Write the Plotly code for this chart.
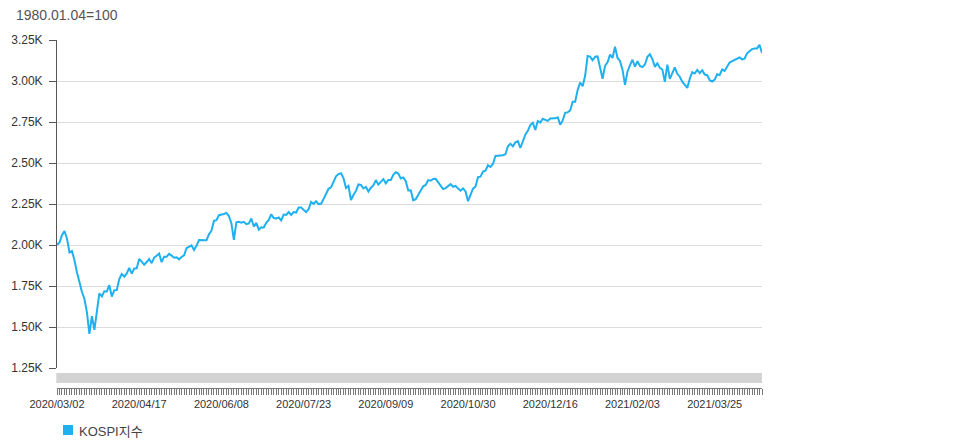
"""
KOSPI index, daily closes 2020/03/02 - 2021/04/21 (1980.01.04 = 100).
Category x axis (trading days only), one tick per day, a label every 33 days.
"""
import pandas as pd
import plotly.graph_objects as go

# KRX closed on these weekdays inside the window
holidays = ["2020-04-15", "2020-04-30", "2020-05-01", "2020-05-05", "2020-08-17",
            "2020-09-30", "2020-10-01", "2020-10-02", "2020-10-09", "2020-12-25",
            "2021-01-01", "2021-02-11", "2021-02-12", "2021-03-01"]
days = pd.bdate_range("2020-03-02", "2021-04-21")
days = days[~days.isin(pd.to_datetime(holidays))]
dates = [d.strftime("%Y/%m/%d") for d in days]

kospi = [
    # 2020-03
    2002.51, 2014.15, 2059.33, 2085.26, 2040.22, 1954.77, 1962.93, 1908.27, 1834.33, 1771.44, 1714.86,
    1672.44, 1591.20, 1457.64, 1566.15, 1482.46, 1609.97, 1704.76, 1686.24, 1717.73, 1717.12, 1754.64,
    # 2020-04
    1685.46, 1724.86, 1725.44, 1791.88, 1823.60, 1807.14, 1826.66, 1860.70, 1825.76, 1857.08,
    1857.61, 1914.53, 1898.36, 1879.38, 1896.15, 1914.31, 1889.01, 1922.77, 1934.16, 1947.56,
    # 2020-05
    1895.37, 1928.76, 1928.61, 1945.82, 1935.40, 1922.10, 1924.96, 1912.80, 1927.28, 1937.11,
    1980.36, 1989.64, 1998.31, 1970.13, 1994.60, 2029.78, 2031.20, 2028.54, 2029.60,
    # 2020-06
    2065.08, 2087.19, 2147.00, 2151.18, 2181.87, 2184.29, 2188.92, 2195.69, 2176.78, 2132.30, 2030.82,
    2138.05, 2141.05, 2136.06, 2141.32, 2126.73, 2131.24, 2161.51, 2112.37, 2134.65, 2093.48, 2108.33,
    # 2020-07
    2106.70, 2135.37, 2152.41, 2187.93, 2164.17, 2161.85, 2167.48, 2150.25, 2186.06, 2183.61, 2201.19,
    2183.76, 2201.19, 2198.20, 2228.66, 2228.67, 2216.93, 2200.44, 2217.86, 2263.16, 2251.04, 2267.01,
    2249.37,
    # 2020-08
    2251.04, 2279.97, 2311.86, 2342.61, 2351.67, 2386.38, 2418.67, 2432.35, 2437.53, 2407.49,
    2348.24, 2360.54, 2274.22, 2304.59, 2329.83, 2369.25, 2366.73, 2344.45, 2353.80, 2326.17,
    # 2020-09
    2349.25, 2363.34, 2395.90, 2368.25, 2384.22, 2401.91, 2375.81, 2396.48, 2396.69, 2427.96, 2443.58,
    2435.92, 2406.17, 2412.40, 2389.11, 2332.59, 2333.24, 2272.70, 2278.79, 2308.08, 2327.89,
    # 2020-10
    2358.00, 2365.90, 2395.90, 2391.96, 2403.15, 2403.73, 2380.48, 2361.21, 2341.53, 2346.74,
    2358.41, 2370.86, 2355.08, 2360.81, 2343.91, 2330.84, 2345.26, 2326.67, 2267.15,
    # 2020-11
    2300.16, 2343.31, 2357.32, 2413.79, 2416.50, 2447.20, 2452.83, 2485.87, 2475.62, 2493.87, 2543.03,
    2543.35, 2545.64, 2547.42, 2553.50, 2602.59, 2617.76, 2601.54, 2625.91, 2633.45, 2591.34,
    # 2020-12
    2634.25, 2672.47, 2696.22, 2731.45, 2745.44, 2700.93, 2755.47, 2746.46, 2770.06, 2762.20, 2756.82,
    2771.79, 2770.43, 2772.18, 2778.65, 2733.68, 2759.82, 2806.86, 2808.60, 2820.51, 2873.47, 2873.47,
    # 2021-01
    2944.45, 2990.57, 2968.21, 3031.68, 3152.18, 3148.45, 3125.95, 3148.29, 3149.93, 3085.90,
    3013.93, 3092.66, 3114.55, 3160.84, 3140.63, 3208.99, 3140.31, 3122.56, 3069.05, 2976.21,
    # 2021-02
    3056.53, 3096.81, 3129.68, 3087.55, 3120.63, 3091.24, 3084.67, 3100.58, 3147.00,
    3163.25, 3133.73, 3086.66, 3107.62, 3079.75, 3070.09, 2994.98, 3099.69, 3012.95,
    # 2021-03
    3043.49, 3082.99, 3043.87, 3026.26, 2996.11, 2976.12, 2958.12, 3013.70, 3054.39, 3045.71, 3067.17,
    3047.50, 3066.01, 3039.53, 3035.46, 3004.74, 2996.35, 3008.33, 3041.01, 3036.04, 3070.00, 3061.42,
    # 2021-04
    3087.40, 3112.80, 3120.83, 3127.20, 3137.93, 3143.26, 3131.88, 3135.59,
    3169.08, 3182.38, 3194.33, 3198.62, 3198.84, 3220.70, 3171.66,
]
assert len(dates) == len(kospi), (len(dates), len(kospi))

x_labels = ["2020/03/02", "2020/04/17", "2020/06/08", "2020/07/23", "2020/09/09",
            "2020/10/30", "2020/12/16", "2021/02/03", "2021/03/25"]
y_ticks = [1250, 1500, 1750, 2000, 2250, 2500, 2750, 3000, 3250]
y_labels = ["1.25K", "1.50K", "1.75K", "2.00K", "2.25K", "2.50K", "2.75K", "3.00K", "3.25K"]

BLUE = "#1fb1ef"
FONT = "Liberation Sans, Arial, Noto Sans CJK KR"
W, H = 968, 447
L, R, T, B = 57, 206, 40, 59          # plot area 57..762 x 40..388 px
PH = H - T - B

fig = go.Figure()
fig.add_trace(go.Scatter(x=dates, y=kospi, mode="lines", showlegend=False,
                         line=dict(color=BLUE, width=2)))

# grey navigator bar between plot and date ticks
fig.add_shape(type="rect", xref="paper", yref="paper", x0=-0.001, x1=1,
              y0=(T + PH - 383) / PH, y1=(T + PH - 373) / PH,
              fillcolor="#d3d3d3", line_width=0, layer="below")

# legend: square swatch + label below the axis
fig.add_shape(type="rect", xref="paper", yref="paper",
              x0=(63 - L) / 705, x1=(73 - L) / 705,
              y0=(T + PH - 435) / PH, y1=(T + PH - 425) / PH,
              fillcolor=BLUE, line_width=0)
fig.add_annotation(text="KOSPI지수", xref="paper", yref="paper", showarrow=False,
                   x=(77 - L) / 705, xanchor="left", y=(T + PH - 431) / PH, yanchor="middle",
                   font=dict(size=13, color="#444"))

fig.update_layout(
    width=W, height=H,
    margin=dict(l=L, r=R, t=T, b=B, autoexpand=False),
    paper_bgcolor="white", plot_bgcolor="white",
    font=dict(family=FONT, size=11, color="#333"),
    title=dict(text="1980.01.04=100", x=16 / W, xanchor="left", y=1 - 15 / H, yanchor="middle",
               font=dict(size=14, color="#555")),
    showlegend=False,
    xaxis=dict(type="category", anchor="free", position=0, range=[0, len(dates) - 1],
               tickmode="array", tickvals=dates,
               ticktext=[d if d in x_labels else "" for d in dates],
               ticks="outside", ticklen=6, tickwidth=1, tickcolor="#777",
               showline=True, linecolor="#777", linewidth=1,
               showgrid=False, zeroline=False, tickangle=0,
               tickfont=dict(size=11, color="#333")),
    yaxis=dict(domain=[20 / PH, 1], range=[1250, 3250],
               tickmode="array", tickvals=y_ticks, ticktext=y_labels,
               ticks="outside", ticklen=7, tickcolor="#555", ticklabelstandoff=4,
               showline=True, linecolor="#555", linewidth=1,
               showgrid=True, gridcolor="#dcdcdc", zeroline=False,
               tickfont=dict(size=12, color="#333")),
)

fig.write_html("out.html", config={"displayModeBar": False},
               post_script="document.body.style.margin='0';")
